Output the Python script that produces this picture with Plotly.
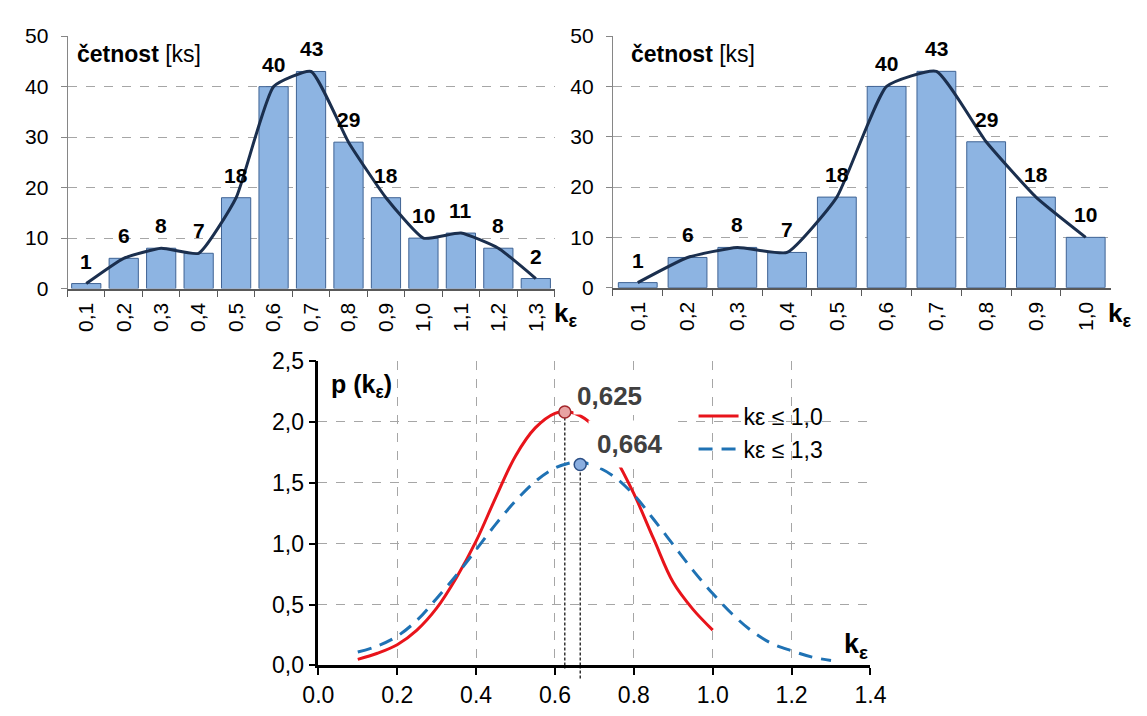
import plotly.graph_objects as go

# ---- frequency histograms (count of pieces per k_eps class) ----
k_classes_all = ["0,1", "0,2", "0,3", "0,4", "0,5", "0,6", "0,7",
                 "0,8", "0,9", "1,0", "1,1", "1,2", "1,3"]
counts_all = [1, 6, 8, 7, 18, 40, 43, 29, 18, 10, 11, 8, 2]

k_classes_cut = ["0,1", "0,2", "0,3", "0,4", "0,5", "0,6", "0,7",
                 "0,8", "0,9", "1,0"]
counts_cut = [1, 6, 8, 7, 18, 40, 43, 29, 18, 10]

# ---- probability density curves p(k_eps) ----
k_red = [0.10, 0.15, 0.20, 0.25, 0.30, 0.35, 0.40, 0.45, 0.50, 0.55,
         0.60, 0.625, 0.65, 0.70, 0.75, 0.80, 0.85, 0.90, 0.95, 1.00]
p_red = [0.05, 0.10, 0.17, 0.29, 0.47, 0.72, 1.02, 1.38, 1.72, 1.95,
         2.07, 2.08, 2.07, 1.96, 1.72, 1.41, 1.04, 0.68, 0.46, 0.29]

k_blue = [0.10, 0.15, 0.20, 0.25, 0.30, 0.35, 0.40, 0.45, 0.50, 0.55,
          0.60, 0.65, 0.664, 0.70, 0.75, 0.80, 0.85, 0.90, 0.95, 1.00,
          1.05, 1.10, 1.15, 1.20, 1.25, 1.30]
p_blue = [0.11, 0.16, 0.24, 0.37, 0.55, 0.74, 0.95, 1.16, 1.35, 1.51,
          1.62, 1.67, 1.67, 1.64, 1.55, 1.40, 1.20, 0.99, 0.78, 0.59,
          0.42, 0.28, 0.18, 0.12, 0.07, 0.04]

mode_red_k, mode_red_p = 0.625, 2.08
mode_blue_k, mode_blue_p = 0.664, 1.65
mode_red_text = "0,625"
mode_blue_text = "0,664"

legend_red = "kε ≤ 1,0"
legend_blue = "kε ≤ 1,3"

p_tick_vals = [0.0, 0.5, 1.0, 1.5, 2.0, 2.5]
p_tick_text = ["0,0", "0,5", "1,0", "1,5", "2,0", "2,5"]
k_tick_vals = [0.0, 0.2, 0.4, 0.6, 0.8, 1.0, 1.2, 1.4]
k_tick_text = ["0.0", "0.2", "0.4", "0.6", "0.8", "1.0", "1.2", "1.4"]

FONT = "Liberation Sans, Arial, sans-serif"
W, H = 1147, 716

BAR_FILL = "#8DB4E2"
BAR_EDGE = "#3F6394"
POLY_COLOR = "#1B2F4E"
RED = "#E8141B"
BLUE = "#1F72B4"
GRID = "#A6A6A6"


def px_x(v):
    return v / W


def px_y(v):
    return 1 - v / H


fig = go.Figure()

# histogram bars + frequency polygons
for cats, vals, xa, ya in [(k_classes_all, counts_all, "x", "y"),
                           (k_classes_cut, counts_cut, "x2", "y2")]:
    fig.add_trace(go.Bar(
        x=cats, y=vals, xaxis=xa, yaxis=ya, width=0.78,
        marker=dict(color=BAR_FILL, line=dict(color=BAR_EDGE, width=1)),
        showlegend=False, hoverinfo="x+y"))
    fig.add_trace(go.Scatter(
        x=cats, y=vals, xaxis=xa, yaxis=ya, mode="lines",
        line=dict(color=POLY_COLOR, width=3, shape="spline", smoothing=0.45),
        showlegend=False, hoverinfo="skip"))

# density curves
fig.add_trace(go.Scatter(
    x=k_red, y=p_red, xaxis="x3", yaxis="y3", mode="lines",
    name=legend_red,
    line=dict(color=RED, width=3, shape="spline")))
fig.add_trace(go.Scatter(
    x=k_blue, y=p_blue, xaxis="x3", yaxis="y3", mode="lines",
    name=legend_blue,
    line=dict(color=BLUE, width=3, dash="14px,9px", shape="spline")))

# mode markers
fig.add_trace(go.Scatter(
    x=[mode_red_k], y=[mode_red_p], xaxis="x3", yaxis="y3", mode="markers",
    marker=dict(size=12, color="#E8A3A3", line=dict(color="#A3262A", width=1.5)),
    showlegend=False, cliponaxis=False))
fig.add_trace(go.Scatter(
    x=[mode_blue_k], y=[mode_blue_p], xaxis="x3", yaxis="y3", mode="markers",
    marker=dict(size=12, color="#8AAEE0", line=dict(color="#2B4F86", width=1.5)),
    showlegend=False, cliponaxis=False))

annotations = []
# value labels above the bars
for cats, vals, xa, ya in [(k_classes_all, counts_all, "x", "y"),
                           (k_classes_cut, counts_cut, "x2", "y2")]:
    for c, v in zip(cats, vals):
        annotations.append(dict(
            x=c, y=v, xref=xa, yref=ya, text=f"<b>{v}</b>", showarrow=False,
            yanchor="bottom", yshift=9,
            font=dict(family=FONT, size=21, color="black")))

# axis captions of the histograms
for x0, x_end in [(61, 551), (631, 1121)]:
    annotations.append(dict(
        x=px_x(x0), y=px_y(43), xref="paper", yref="paper",
        text="<b>četnost</b> [ks]", showarrow=False,
        xanchor="left", yanchor="middle",
        font=dict(family=FONT, size=23, color="black")))
    annotations.append(dict(
        x=px_x(x_end), y=px_y(313), xref="paper", yref="paper",
        text="<b>k<sub>ε</sub></b>", showarrow=False,
        xanchor="left", yanchor="middle",
        font=dict(family=FONT, size=26, color="black")))

# density chart captions
annotations.append(dict(
    x=0.027, y=2.29, xref="x3", yref="y3", text="<b>p (k<sub>ε</sub>)</b>",
    showarrow=False, xanchor="left", yanchor="middle",
    font=dict(family=FONT, size=25, color="black")))
annotations.append(dict(
    x=1.4, y=0.16, xref="x3", yref="y3", text="<b>k<sub>ε</sub></b>",
    showarrow=False, xanchor="right", yanchor="middle",
    font=dict(family=FONT, size=27, color="black")))
annotations.append(dict(
    x=0.738, y=2.215, xref="x3", yref="y3", text=f"<b>{mode_red_text}</b>",
    showarrow=False, xanchor="center", yanchor="middle",
    bgcolor="white", borderpad=3,
    font=dict(family=FONT, size=26, color="#404040")))
annotations.append(dict(
    x=0.79, y=1.82, xref="x3", yref="y3", text=f"<b>{mode_blue_text}</b>",
    showarrow=False, xanchor="center", yanchor="middle",
    bgcolor="white", borderpad=8,
    font=dict(family=FONT, size=26, color="#404040")))

# dashed drop lines from the modes to the k axis
shapes = []
for k, p, y_end in [(mode_red_k, mode_red_p, 681), (mode_blue_k, mode_blue_p, 692)]:
    shapes.append(dict(type="line", xref="x3", yref="y3", x0=k, x1=k, y0=0, y1=p,
                       line=dict(color="black", width=1.2, dash="3px,2px"),
                       layer="below"))
    shapes.append(dict(type="line", xref="x3", yref="paper", x0=k, x1=k,
                       y0=px_y(677), y1=px_y(y_end),
                       line=dict(color="black", width=1.2, dash="3px,2px")))

tick_font_top = dict(family=FONT, size=21, color="black")
top_xaxis = dict(type="category", tickson="boundaries", ticks="outside",
                 ticklen=7, tickwidth=1.3, tickcolor="#595959",
                 showline=True, linecolor="#595959", linewidth=1.5,
                 showgrid=False, tickangle=-90, tickfont=tick_font_top,
                 ticklabelstandoff=4, fixedrange=True)
top_yaxis = dict(range=[0, 50], dtick=10, ticks="outside", ticklen=6,
                 tickcolor="#868686", showline=True, linecolor="#868686",
                 linewidth=1, showgrid=True, gridcolor=GRID, griddash="dash",
                 gridwidth=1, zeroline=False, tickfont=tick_font_top,
                 ticklabelstandoff=8)

tick_font_bot = dict(family=FONT, size=23, color="black")

fig.update_layout(
    width=W, height=H,
    margin=dict(l=0, r=0, t=0, b=0),
    paper_bgcolor="white", plot_bgcolor="white",
    font=dict(family=FONT, color="black"),
    bargap=0.22,
    xaxis=dict(domain=[px_x(53), px_x(554)], anchor="y", **top_xaxis),
    yaxis=dict(domain=[px_y(286), px_y(24)], anchor="x", **top_yaxis),
    xaxis2=dict(domain=[px_x(614), px_x(1126)], anchor="y2", **top_xaxis),
    yaxis2=dict(domain=[px_y(285), px_y(24)], anchor="x2", **top_yaxis),
    xaxis3=dict(domain=[px_x(311), px_x(879)], anchor="y3", range=[0, 1.4],
                tickvals=k_tick_vals, ticktext=k_tick_text,
                ticks="outside", ticklen=7, tickwidth=2, tickcolor="black",
                showline=True, linecolor="black", linewidth=2.5,
                showgrid=True, gridcolor=GRID, griddash="dash", gridwidth=1,
                zeroline=False, tickfont=tick_font_bot),
    yaxis3=dict(domain=[px_y(677), px_y(361)], anchor="x3", range=[0, 2.5],
                tickvals=p_tick_vals, ticktext=p_tick_text,
                ticks="outside", ticklen=7, tickwidth=2, tickcolor="black",
                showline=True, linecolor="black", linewidth=2.5,
                showgrid=True, gridcolor=GRID, griddash="dash", gridwidth=1,
                zeroline=False, tickfont=tick_font_bot),
    legend=dict(x=px_x(697), y=px_y(396), xanchor="left", yanchor="top",
                font=dict(family=FONT, size=23, color="black"),
                bgcolor="rgba(255,255,255,0)", traceorder="normal",
                itemwidth=40),
    annotations=annotations,
    shapes=shapes,
    showlegend=True,
)

fig.write_html("out.html")
